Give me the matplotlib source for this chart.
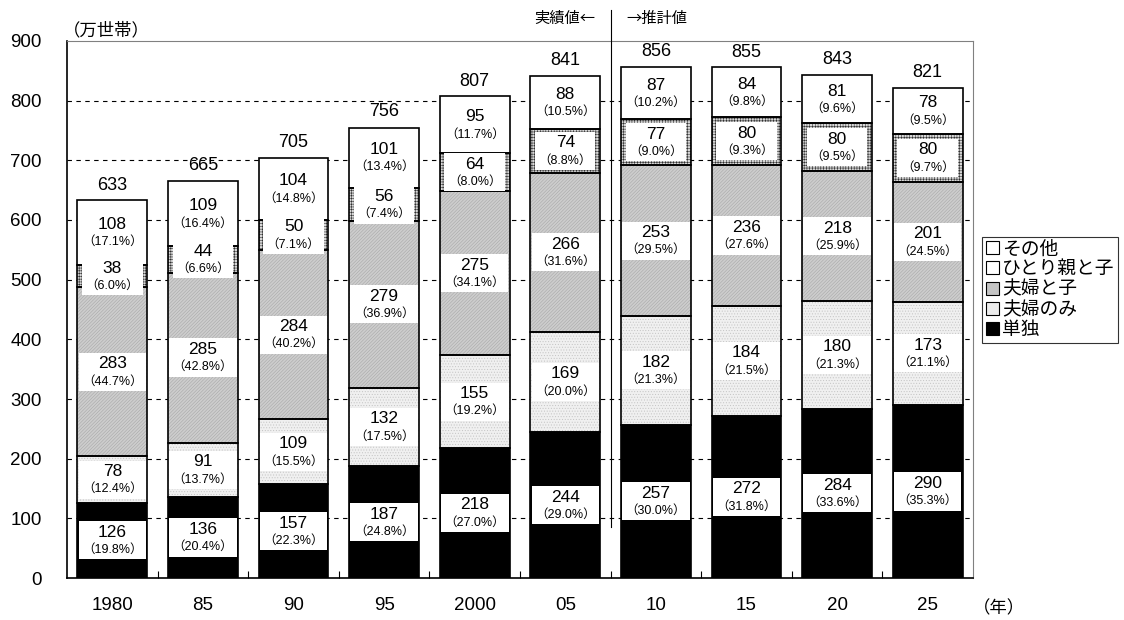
import numpy as np
import matplotlib.pyplot as plt
from matplotlib.patches import Patch
from matplotlib.offsetbox import TextArea, VPacker, AnnotationBbox

plt.rcParams['font.family'] = ['Liberation Sans', 'Noto Sans CJK JP', 'DejaVu Sans']
plt.rcParams['hatch.linewidth'] = 0.4

years = ['1980', '85', '90', '95', '2000', '05', '10', '15', '20', '25']
tandoku = [126, 136, 157, 187, 218, 244, 257, 272, 284, 290]
fufu = [78, 91, 109, 132, 155, 169, 182, 184, 180, 173]
fufu_ko = [283, 285, 284, 279, 275, 266, 253, 236, 218, 201]
hitorioya = [38, 44, 50, 56, 64, 74, 77, 80, 80, 80]
sonota = [108, 109, 104, 101, 95, 88, 87, 84, 81, 78]
totals = [633, 665, 705, 756, 807, 841, 856, 855, 843, 821]

pct_tandoku = ['19.8', '20.4', '22.3', '24.8', '27.0', '29.0', '30.0', '31.8', '33.6', '35.3']
pct_fufu = ['12.4', '13.7', '15.5', '17.5', '19.2', '20.0', '21.3', '21.5', '21.3', '21.1']
pct_fufu_ko = ['44.7', '42.8', '40.2', '36.9', '34.1', '31.6', '29.5', '27.6', '25.9', '24.5']
pct_hitorioya = ['6.0', '6.6', '7.1', '7.4', '8.0', '8.8', '9.0', '9.3', '9.5', '9.7']
pct_sonota = ['17.1', '16.4', '14.8', '13.4', '11.7', '10.5', '10.2', '9.8', '9.6', '9.5']

# name, values, percents, face colour, hatch, hatch colour
series = [
    ('単独', tandoku, pct_tandoku, 'black', None, 'black'),
    ('夫婦のみ', fufu, pct_fufu, '#f0f0f0', '......', '#c4c4c4'),
    ('夫婦と子', fufu_ko, pct_fufu_ko, '#cdcdcd', '//////////', '#a8a8a8'),
    ('ひとり親と子', hitorioya, pct_hitorioya, '#d8d8d8', '++++++', '#303030'),
    ('その他', sonota, pct_sonota, 'white', None, 'white'),
]

fig = plt.figure(figsize=(11.24, 6.2), dpi=100)
ax = fig.add_axes([0.0596, 0.0677, 0.8061, 0.8662])
x = np.arange(len(years))
w = 0.77

for yv in range(100, 900, 100):
    ax.axhline(yv, color='black', lw=0.8, ls=(0, (4, 4)), zorder=0)

bottom = np.zeros(len(years))
for name, vals, pcts, fc, hatch, hc in series:
    vals = np.array(vals)
    ax.bar(x, vals, w, bottom=bottom, color=fc, hatch=hatch, edgecolor=hc,
           linewidth=0, zorder=2)
    ax.bar(x, vals, w, bottom=bottom, fill=False, edgecolor='black',
           linewidth=1.2, zorder=3)
    for i in range(len(years)):
        yc = bottom[i] + vals[i] / 2
        box = VPacker(children=[
            TextArea(str(vals[i]), textprops=dict(fontsize=12.5)),
            TextArea('（' + pcts[i] + '%）', textprops=dict(fontsize=9)),
        ], align='center', pad=2, sep=3)
        ab = AnnotationBbox(box, (x[i], yc), frameon=True, pad=0.05, box_alignment=(0.5, 0.5),
                            bboxprops=dict(boxstyle='square,pad=0.05', fc='white', ec='none'),
                            zorder=5)
        ax.add_artist(ab)
    bottom = bottom + vals

for i in range(len(years)):
    ax.annotate(str(totals[i]), (x[i], totals[i]), xytext=(0, 11), textcoords='offset points',
                ha='center', va='center', fontsize=13)

ax.set_xlim(-0.5, 9.5)
ax.set_ylim(0, 900)
ax.set_yticks(range(0, 1000, 100))
ax.tick_params(axis='y', length=0, labelsize=13.5, pad=18)
ax.set_xticks(x)
ax.set_xticklabels(years)
ax.tick_params(axis='x', which='major', length=0, labelsize=13.5, pad=14)
ax.set_xticks(np.arange(0.5, 9.5, 1), minor=True)
ax.tick_params(axis='x', which='minor', direction='in', length=5, width=0.8)

for s in ['top', 'right']:
    ax.spines[s].set_color('#808080')
for s in ['left', 'bottom']:
    ax.spines[s].set_color('black')
    ax.spines[s].set_linewidth(1.2)

# divider between actual and projected values
ax.plot([5.5, 5.5], [85, 952], color='black', lw=0.8, clip_on=False, zorder=4)
ax.text(5.33, 938, '実績値←', ha='right', va='center', fontsize=11,
        family=['Noto Sans CJK JP', 'DejaVu Sans'])
ax.text(5.67, 938, '→推計値', ha='left', va='center', fontsize=11,
        family=['Noto Sans CJK JP', 'DejaVu Sans'])

fig.text(0.056, 0.952, '（万世帯）', ha='left', va='center', fontsize=12.5)
fig.text(0.866, 0.019, '（年）', ha='left', va='center', fontsize=12.5)

handles = [
    Patch(facecolor='white', edgecolor='black', lw=0.8, label='その他'),
    Patch(facecolor='white', edgecolor='black', lw=0.8, label='ひとり親と子'),
    Patch(facecolor='#c4c4c4', edgecolor='black', lw=0.8, label='夫婦と子'),
    Patch(facecolor='#ececec', edgecolor='black', lw=0.8, label='夫婦のみ'),
    Patch(facecolor='black', edgecolor='black', lw=0.8, label='単独'),
]
leg = fig.legend(handles=handles, loc='upper left', bbox_to_anchor=(0.874, 0.617),
                 fontsize=13.5, frameon=True, fancybox=False, edgecolor='black',
                 handlelength=0.7, handleheight=0.7, handletextpad=0.15,
                 borderpad=0.2, labelspacing=0.15, borderaxespad=0)
leg.get_frame().set_linewidth(0.8)

fig.savefig('out.png', dpi=100)
